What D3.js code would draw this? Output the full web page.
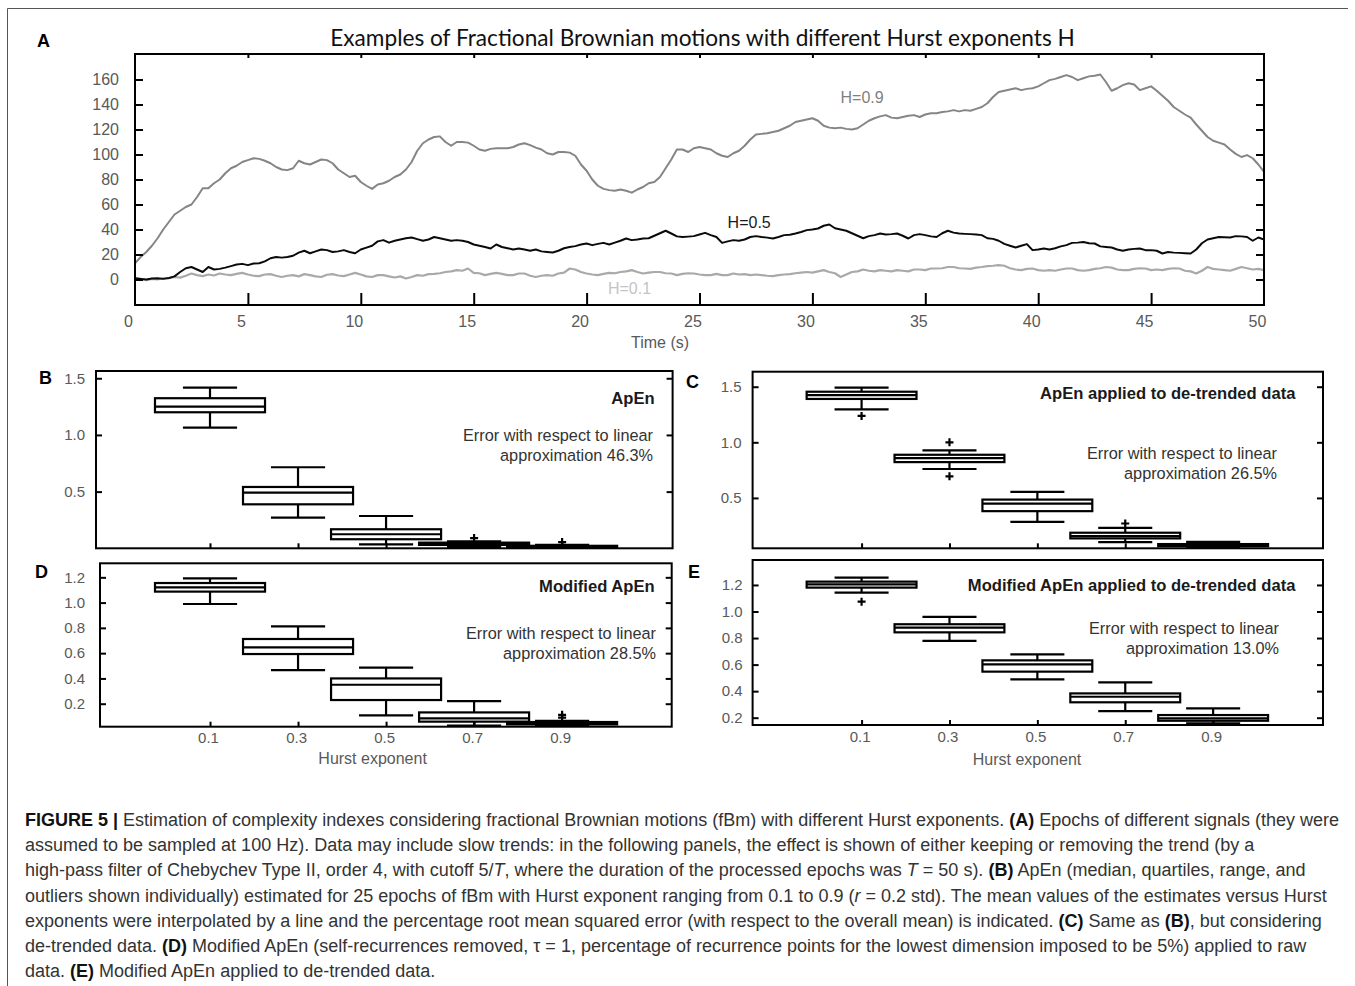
<!DOCTYPE html>
<html><head><meta charset="utf-8">
<script src="https://cdn.jsdelivr.net/npm/d3@7"></script>
<style>body{margin:0;background:#fff} svg{display:block}</style>
</head><body>
<svg id="fig" width="1355" height="986"></svg>
<script>
// ---------------- DATA ----------------
const sampleStep = 0.25;
const fbmH09 = [13,18,22,27, 33,40,46,52, 55,58,60,66, 73,73,77,80, 85,89,91,94,
 95.5,97,96.5,95, 93,90,88,87.5, 89,95,93,92, 94,96,95.5,93, 88,85,82,83,
 78,75,72.5,76, 77,79,82,84, 88,94,103,109, 112,114,114.5,110, 107,110,110,109.5,
 107,104,103,104.5, 105,105,105,106, 108,109,107.5,105.5, 104,101,100,102, 102,101.5,99,92,
 87,80,75,72.5, 71.5,71,72,71, 69.5,72,74,77, 78,82,89,96, 104,104,102,105,
 106,105,104,101, 99,98,101,103, 107,112,116,116.5, 117,118,119,121, 123,126,127,128,
 129,127,123,121.5, 121,121.5,120.5,120, 121,124,127,129, 130.5,131.5,129.5,129, 130,131,131.5,130,
 132,133,133,134, 134.5,135.5,134.5,135.5, 135,136.5,138,141, 146,150,151,152, 153,151.5,152.5,153,
 154.5,157,159.5,160.5, 162,163.5,162,159.5, 161,162.5,163,164, 158,151,153,155.5, 157,156,151.5,153,
 154.5,151,147,143, 138,135,132,129.5, 124,119,114,111, 109.5,108,104,100.5, 98,99.5,97,92,
 86];
const fbmH05 = [1,0.5,0,0.8, 1,0.5,1.2,2.5, 6,9,10,8, 6,10,8,8.5, 9.5,10.7,12,12.5,
 11.5,12.8,13,14.5, 17,18,17.5,18, 19,21.5,23,21, 22.5,24,23.5,22, 22.5,23.5,22,21,
 24,25.5,27,30.5, 31.5,29.5,31,32, 33,33.6,32.3,31, 32,34,33,32, 31,31.5,31,30,
 28,27,26,24.8, 28,26,25,24, 24.8,24,23,24, 22.5,22,21.6,23, 25,26,26.7,28,
 28.8,27.5,28.5,29.3, 28,29.5,31,32.8, 31.5,32,32.8,33, 35,37,39,36.8, 34.5,34,34.3,34.7,
 36,37.3,35.5,34, 29.3,30.5,31.5,31, 32,34,34.7,34, 33.5,32.8,34,35.5, 35.8,36.8,38,39.5,
 40,40.8,43,44, 41,40,39,37, 35,33,34.7,35.5, 36.8,36,36.3,36.8, 35,32.8,35.5,36.3,
 35.5,34.5,34,37, 39,37.5,36.8,36.5, 36.3,36,35.5,33, 32.5,31,28.5,27, 25.6,27,28.3,23.5,
 24,24.8,24,25, 26.5,27.5,29.3,29.5, 30,29,28.8,26.5, 26,25.6,24,23, 24,24.5,24.8,23.5,
 23.5,23,20.8,22, 21.5,21.3,21,20.8, 24,29,32,33, 34,33.8,33.6,34.7, 34.5,34,31,33.6,
 32];
const fbmH01 = [1,0.5,-0.5,0.5, 0,1,1,2, 1.5,3,4.8,3.5, 2.7,4,3.2,4.8, 4,3.5,4.5,5.3,
 4,3,2.7,4, 4.3,3,2,3, 3.5,2.5,4.3,3.5, 2.5,2,3.8,4.3, 3.2,2.7,4,5.3,
 4,2.5,2,3.5, 3.5,2.5,1.6,2.5, 0.8,2,3.5,3, 4.3,4.5,5,6, 6.5,7.5,7,8.8,
 5.3,5,3.5,4.5, 5.3,4.5,3.5,3.5, 4.8,4.8,3,2, 3,3.5,3,4.8, 5.5,8.8,8,6,
 4.8,4,3.5,4.5, 5.3,5,6,6.5, 7.5,6,4.8,5.5, 6,6,5,4.8, 3.5,4.5,5,4.8,
 4,3.5,3.5,4.5, 3.5,3.5,4.8,4, 4.3,3.5,4,3.5, 3,2.7,3.5,4, 4.3,5,5.5,6,
 5.5,6.5,7.5,6, 5,2,4,6, 6.5,8,7,6.5, 7.5,7,6.5,7.5, 7,6.5,8,8,
 7.5,8.8,8.8,9, 10,10,9,8.8, 8.5,9.5,10,10.7, 11,11.5,11,9, 8,7.5,8.5,8.8,
 7.5,7,7.5,7, 8,8.8,8.8,7.5, 7,7.5,8.5,9, 10,9.5,8,7.5, 7.5,8.5,9,8.8,
 7.5,8,7.5,8.5, 9,8.8,7,6.5, 4.8,7,10,8.5, 8,7.5,7,8.5, 10,9,8,8.5,
 7.5];
const timeTicks = [0,5,10,15,20,25,30,35,40,45,50];
const innerTimeTicks = [5,10,15,20,25,30,35,40,45];
const ampTicks = [0,20,40,60,80,100,120,140,160];
const seriesNames = ["H=0.9","H=0.5","H=0.1"];

// Panels B-E: box-plot statistics per Hurst exponent
const hurst = [0.1,0.3,0.5,0.7,0.9];
const hurstLabels = ["0.1","0.3","0.5","0.7","0.9"];
const apenTicks = [0.5,1.0,1.5];
const modTicks = [0.2,0.4,0.6,0.8,1.0,1.2];

const apenHi  = [1.418,0.715,0.285,0.062,0.030];
const apenQ3  = [1.324,0.541,0.168,0.050,0.022];
const apenMed = [1.250,0.491,0.124,0.040,0.015];
const apenQ1  = [1.200,0.388,0.080,0.030,0.010];
const apenLo  = [1.065,0.270,0.035,0.010,0.003];
const apenOut = [[],[],[],[0.090],[0.055]];

const detrHi  = [1.491,0.927,0.554,0.231,0.105];
const detrQ3  = [1.455,0.888,0.485,0.187,0.085];
const detrMed = [1.425,0.858,0.449,0.157,0.075];
const detrQ1  = [1.390,0.822,0.381,0.136,0.066];
const detrLo  = [1.297,0.760,0.285,0.103,0.056];
const detrOut = [[1.237],[1.000,0.694],[],[0.270],[]];

const modHi  = [1.192,0.812,0.485,0.221,0.065];
const modQ3  = [1.155,0.712,0.400,0.131,0.055];
const modMed = [1.121,0.646,0.350,0.084,0.045];
const modQ1  = [1.087,0.593,0.229,0.058,0.036];
const modLo  = [0.989,0.466,0.108,0.026,0.025];
const modOut = [[],[],[],[],[0.112,0.090]];

const modDetrHi  = [1.255,0.959,0.677,0.466,0.270];
const modDetrQ3  = [1.225,0.904,0.632,0.383,0.220];
const modDetrMed = [1.205,0.878,0.602,0.358,0.195];
const modDetrQ1  = [1.180,0.843,0.547,0.316,0.177];
const modDetrLo  = [1.142,0.778,0.489,0.250,0.157];
const modDetrOut = [[1.074],[],[],[],[]];

const panelTitles = ["ApEn","ApEn applied to de-trended data","Modified ApEn","Modified ApEn applied to de-trended data"];
const errorPercents = ["46.3%","26.5%","28.5%","13.0%"];

const captionLines = [
 [{t:"FIGURE 5 | ",b:1},{t:"Estimation of complexity indexes considering fractional Brownian motions (fBm) with different Hurst exponents. "},{t:"(A)",b:1},{t:" Epochs of different signals (they were"}],
 [{t:"assumed to be sampled at 100 Hz). Data may include slow trends: in the following panels, the effect is shown of either keeping or removing the trend (by a"}],
 [{t:"high-pass filter of Chebychev Type II, order 4, with cutoff 5/"},{t:"T",i:1},{t:", where the duration of the processed epochs was "},{t:"T",i:1},{t:" = 50 s). "},{t:"(B)",b:1},{t:" ApEn (median, quartiles, range, and"}],
 [{t:"outliers shown individually) estimated for 25 epochs of fBm with Hurst exponent ranging from 0.1 to 0.9 ("},{t:"r",i:1},{t:" = 0.2 std). The mean values of the estimates versus Hurst"}],
 [{t:"exponents were interpolated by a line and the percentage root mean squared error (with respect to the overall mean) is indicated. "},{t:"(C)",b:1},{t:" Same as "},{t:"(B)",b:1},{t:", but considering"}],
 [{t:"de-trended data. "},{t:"(D)",b:1},{t:" Modified ApEn (self-recurrences removed, \u03c4 = 1, percentage of recurrence points for the lowest dimension imposed to be 5%) applied to raw"}],
 [{t:"data. "},{t:"(E)",b:1},{t:" Modified ApEn applied to de-trended data."}]
];

// ---------------- DRAWING ----------------
const svg = d3.select("#fig");
const SANS = "'Liberation Sans', Arial, Helvetica, sans-serif";
const TICKCOL = "#595959";

// outer frame lines (left and top)
svg.append("path").attr("d","M7.5,986V8.5H1348").attr("fill","none").attr("stroke","#555").attr("stroke-width",1);

function styleAxis(g, size, col, tickW){
  g.select(".domain").remove();
  g.attr("font-family", SANS).attr("font-size", size);
  g.selectAll(".tick line").attr("stroke","#000").attr("stroke-width",tickW);
  g.selectAll(".tick text").attr("fill",col);
}

// ---- Panel A ----
const A = {left:135, right:1264, top:54, bottom:305};
const xA = d3.scaleLinear().domain([0,50]).range([A.left,A.right]);
const yA = d3.scaleLinear().domain([-20.4,180.4]).range([A.bottom,A.top]);
const timeOf = i => i*sampleStep;

svg.append("text").attr("x",37).attr("y",47).text("A")
  .attr("font-family",SANS).attr("font-weight","bold").attr("font-size",18).attr("fill","#000");

const title = svg.append("text").attr("x",(330+1075)/2).attr("y",46).attr("text-anchor","middle")
  .attr("font-family","Lato, 'Open Sans', sans-serif").attr("font-size",20).attr("fill","#111")
  .text("Examples of Fractional Brownian motions with different Hurst exponents H");
{ const w = title.node().getComputedTextLength(); title.attr("font-size", 20*745/w); }

svg.append("clipPath").attr("id","clipA").append("rect")
  .attr("x",A.left).attr("y",A.top).attr("width",A.right-A.left).attr("height",A.bottom-A.top);
const gLines = svg.append("g").attr("clip-path","url(#clipA)");
const lineA = d3.line().x((d,i)=>xA(timeOf(i))).y(d=>yA(d));
const seriesStyle = [
  {data:fbmH01, col:"#a9a9a9", w:2.2},
  {data:fbmH09, col:"#858585", w:2},
  {data:fbmH05, col:"#0a0a0a", w:2}
];
seriesStyle.forEach(s=>{
  gLines.append("path").datum(s.data).attr("d",lineA).attr("fill","none")
    .attr("stroke",s.col).attr("stroke-width",s.w).attr("stroke-linejoin","round");
});

// series labels
const seriesLabelPos = [{t:32.2, v:141.2, col:"#7f7f7f"},{t:27.2, v:41.6, col:"#1a1a1a"},{t:21.9, v:-11.6, col:"#c4c4c4"}];
seriesNames.forEach((n,i)=>{
  svg.append("text").attr("x",xA(seriesLabelPos[i].t)).attr("y",yA(seriesLabelPos[i].v))
    .attr("text-anchor","middle").attr("font-family",SANS).attr("font-size",16)
    .attr("fill",seriesLabelPos[i].col).text(n);
});

// axes A
const gAL = svg.append("g").attr("transform",`translate(${A.left},0)`)
  .call(d3.axisLeft(yA).tickValues(ampTicks).tickSize(-8).tickPadding(16));
styleAxis(gAL,16,TICKCOL,2);
const gAR = svg.append("g").attr("transform",`translate(${A.right},0)`)
  .call(d3.axisRight(yA).tickValues(ampTicks).tickSize(-8).tickFormat(""));
styleAxis(gAR,16,TICKCOL,2);
const gAB = svg.append("g").attr("transform",`translate(0,${A.bottom})`)
  .call(d3.axisBottom(xA).tickValues(timeTicks).tickSize(-12).tickPadding(11));
styleAxis(gAB,16,TICKCOL,2);
gAB.selectAll(".tick text").attr("dx",-7);
gAB.selectAll(".tick line").filter(d=>d===0||d===50).remove();
const gAT = svg.append("g").attr("transform",`translate(0,${A.top})`)
  .call(d3.axisTop(xA).tickValues(innerTimeTicks).tickSize(-4).tickFormat(""));
styleAxis(gAT,16,TICKCOL,2);
svg.append("rect").attr("x",A.left).attr("y",A.top).attr("width",A.right-A.left).attr("height",A.bottom-A.top)
  .attr("fill","none").attr("stroke","#000").attr("stroke-width",2);
svg.append("text").attr("x",660).attr("y",348).attr("text-anchor","middle")
  .attr("font-family",SANS).attr("font-size",16).attr("fill",TICKCOL).text("Time (s)");

// ---- Box panels ----
const panels = [
 {letter:"B", lx:39, ly:384, left:96, right:672.6, top:371, bottom:548.3, ydom:[0,1.564], xdom:[-0.159,1.151],
  ticks:apenTicks, fmt:d3.format(".1f"), pad:11, xlab:false,
  stats:{hi:apenHi,q3:apenQ3,med:apenMed,q1:apenQ1,lo:apenLo,out:apenOut},
  tx:654.6, ty:403.5, ex:653, ey:441},
 {letter:"C", lx:686, ly:388, left:752.6, right:1323, top:371.7, bottom:548.3, ydom:[0.047,1.635], xdom:[-0.148,1.150],
  ticks:apenTicks, fmt:d3.format(".1f"), pad:11, xlab:false,
  stats:{hi:detrHi,q3:detrQ3,med:detrMed,q1:detrQ1,lo:detrLo,out:detrOut},
  tx:1295.4, ty:398.5, ex:1277, ey:459},
 {letter:"D", lx:35, ly:578, left:100, right:671.7, top:563.3, bottom:726.7, ydom:[0.018,1.311], xdom:[-0.150,1.149],
  ticks:modTicks, fmt:d3.format(".1f"), pad:15, xlab:true, xlabX:372.6, xlabY:764,
  stats:{hi:modHi,q3:modQ3,med:modMed,q1:modQ1,lo:modLo,out:modOut},
  tx:654.6, ty:592, ex:656, ey:639},
 {letter:"E", lx:688, ly:578, left:752.6, right:1323, top:560, bottom:725, ydom:[0.145,1.388], xdom:[-0.148,1.150],
  ticks:modTicks, fmt:d3.format(".1f"), pad:10, xlab:true, xlabX:1027, xlabY:765,
  stats:{hi:modDetrHi,q3:modDetrQ3,med:modDetrMed,q1:modDetrQ1,lo:modDetrLo,out:modDetrOut},
  tx:1295.4, ty:591, ex:1279, ey:634.3}
];

const boxHalf = 0.125, capHalf = 0.0615, LW = 2.2;

panels.forEach((p,pi)=>{
  const x = d3.scaleLinear().domain(p.xdom).range([p.left,p.right]);
  const y = d3.scaleLinear().domain(p.ydom).range([p.bottom,p.top]);
  const id = "clip"+p.letter;
  svg.append("clipPath").attr("id",id).append("rect")
    .attr("x",p.left).attr("y",p.top).attr("width",p.right-p.left).attr("height",p.bottom-p.top);
  const g = svg.append("g").attr("clip-path",`url(#${id})`);
  const s = p.stats;
  hurst.forEach((h,i)=>{
    const gb = g.append("g").attr("stroke","#000").attr("stroke-width",LW).attr("fill","none");
    gb.append("line").attr("x1",x(h)).attr("x2",x(h)).attr("y1",y(s.hi[i])).attr("y2",y(s.q3[i]));
    gb.append("line").attr("x1",x(h)).attr("x2",x(h)).attr("y1",y(s.q1[i])).attr("y2",y(s.lo[i]));
    gb.append("line").attr("x1",x(h-capHalf)).attr("x2",x(h+capHalf)).attr("y1",y(s.hi[i])).attr("y2",y(s.hi[i]));
    gb.append("line").attr("x1",x(h-capHalf)).attr("x2",x(h+capHalf)).attr("y1",y(s.lo[i])).attr("y2",y(s.lo[i]));
    gb.append("rect").attr("x",x(h-boxHalf)).attr("width",x(h+boxHalf)-x(h-boxHalf))
      .attr("y",y(s.q3[i])).attr("height",y(s.q1[i])-y(s.q3[i])).attr("fill","#fff");
    gb.append("line").attr("x1",x(h-boxHalf)).attr("x2",x(h+boxHalf)).attr("y1",y(s.med[i])).attr("y2",y(s.med[i]));
    s.out[i].forEach(o=>{
      const cx=x(h), cy=y(o);
      gb.append("path").attr("d",`M${cx-4},${cy}H${cx+4}M${cx},${cy-4}V${cy+4}`);
    });
  });
  const gl = svg.append("g").attr("transform",`translate(${p.left},0)`)
    .call(d3.axisLeft(y).tickValues(p.ticks).tickFormat(p.fmt).tickSize(-6).tickPadding(p.pad));
  styleAxis(gl,15,TICKCOL,2);
  const gr = svg.append("g").attr("transform",`translate(${p.right},0)`)
    .call(d3.axisRight(y).tickValues(p.ticks).tickSize(-6).tickFormat(""));
  styleAxis(gr,15,TICKCOL,2);
  const gbx = svg.append("g").attr("transform",`translate(0,${p.bottom})`)
    .call(d3.axisBottom(x).tickValues(hurst).tickFormat((d,i)=>p.xlab?hurstLabels[i]:"").tickSize(-5).tickPadding(6));
  styleAxis(gbx,15,TICKCOL,2);
  gbx.selectAll(".tick text").attr("dx",-2);
  svg.append("rect").attr("x",p.left).attr("y",p.top).attr("width",p.right-p.left).attr("height",p.bottom-p.top)
    .attr("fill","none").attr("stroke","#000").attr("stroke-width",2);
  if(p.xlab){
    svg.append("text").attr("x",p.xlabX).attr("y",p.xlabY).attr("text-anchor","middle")
      .attr("font-family",SANS).attr("font-size",16).attr("fill",TICKCOL).text("Hurst exponent");
  }
  svg.append("text").attr("x",p.lx).attr("y",p.ly).text(p.letter)
    .attr("font-family",SANS).attr("font-weight","bold").attr("font-size",18).attr("fill","#000");
  svg.append("text").attr("x",p.tx).attr("y",p.ty).attr("text-anchor","end")
    .attr("font-family",SANS).attr("font-weight","bold").attr("font-size",16.6).attr("fill","#1a1a1a")
    .text(panelTitles[pi]);
  svg.append("text").attr("x",p.ex).attr("y",p.ey).attr("text-anchor","end")
    .attr("font-family",SANS).attr("font-size",16.3).attr("fill","#333").text("Error with respect to linear");
  svg.append("text").attr("x",p.ex).attr("y",p.ey+20).attr("text-anchor","end")
    .attr("font-family",SANS).attr("font-size",16.3).attr("fill","#333").text("approximation "+errorPercents[pi]);
});

// ---- Caption ----
const cap = svg.append("g").attr("font-family",SANS).attr("font-size",17);
captionLines.forEach((segs,i)=>{
  const t = cap.append("text").attr("x",25).attr("y",826+i*25.2).attr("fill","#333");
  segs.forEach(sg=>{
    const ts = t.append("tspan").text(sg.t);
    if(sg.b) ts.attr("font-weight","bold").attr("fill","#111");
    if(sg.i) ts.attr("font-style","italic");
  });
});
{ const w = cap.selectAll("text").nodes()[3].getComputedTextLength(); cap.attr("font-size", 17*1303/w); }
</script>
</body></html>
